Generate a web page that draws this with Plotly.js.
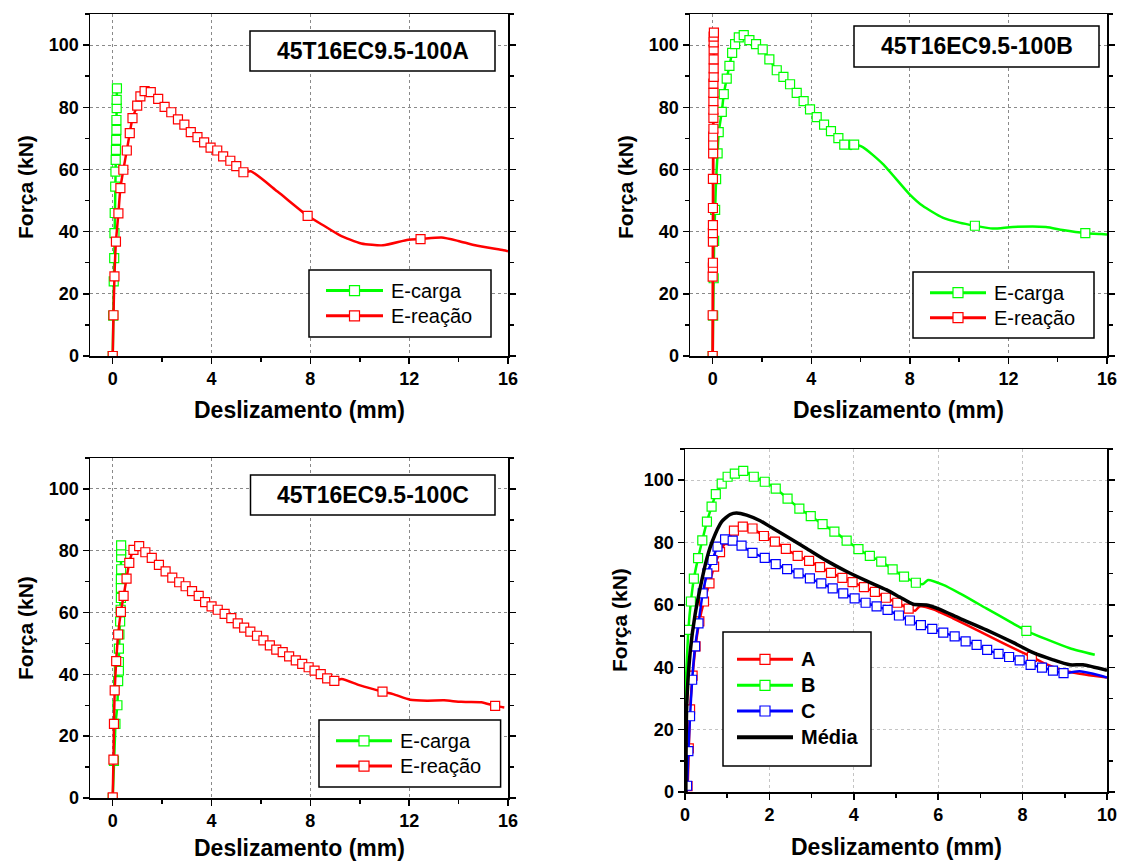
<!DOCTYPE html>
<html><head><meta charset="utf-8">
<script src="https://cdn.plot.ly/plotly-3.0.1.min.js"></script>
<style>html,body{margin:0;padding:0;background:#fff}#c{width:1122px;height:863px}</style>
</head><body><div id="c"></div>
<script>
// ---------- DATA ----------
// Panel A (45T16EC9.5-100A)
const aCargaX = [0, 0.02, 0.04, 0.06, 0.07, 0.08, 0.10, 0.11, 0.12, 0.13, 0.14, 0.15, 0.15, 0.16, 0.16, 0.17];
const aCargaY = [0, 13, 24, 31.5, 39.5, 46, 54.5, 59.3, 63.1, 66.3, 69.5, 72.7, 75.9, 79.7, 82.4, 86.1];
const aReacaoX = [0, 0.03, 0.07, 0.13, 0.23, 0.31, 0.43, 0.57, 0.69, 0.80, 0.99, 1.12, 1.29, 1.54, 1.84, 2.10, 2.37, 2.64, 2.90, 3.16, 3.43, 3.70, 3.96, 4.23, 4.47, 4.76, 5.00, 5.29,
  5.59, 6.67, 7.89, 8.57, 9.18, 10.06, 10.94, 11.96, 12.46, 13.31, 13.99, 14.67, 15.82, 16.0];
const aReacaoY = [0, 13.1, 25.6, 36.8, 45.9, 54.0, 59.9, 66.1, 71.7, 76.5, 80.5, 83.5, 85.2, 84.9, 82.7, 80.1, 78.4, 76.1, 74.4, 72.0, 70.4, 68.7, 67.0, 66.1, 64.2, 62.8, 61.1, 59.1,
  59.4, 52.9, 45.1, 41.8, 38.9, 36.2, 35.6, 37.4, 37.6, 38.1, 37.0, 35.6, 34.0, 33.7];
// Panel B (45T16EC9.5-100B)
const bCargaX = [0, 0.02, 0.04, 0.06, 0.10, 0.14, 0.20, 0.245, 0.37, 0.45, 0.57, 0.68, 0.79, 0.91, 1.06, 1.26, 1.49, 1.76, 2.03, 2.30, 2.60, 2.87, 3.14, 3.41, 3.69, 3.95, 4.22, 4.52, 4.80, 5.10, 5.34,
  5.61, 5.74, 6.09, 6.90, 7.98, 8.52, 9.33, 10.01, 10.64, 11.36, 12.17, 13.52, 14.2, 15.12, 15.76, 16.0];
const bCargaY = [0, 13, 25, 37, 47, 56.9, 65.2, 72.0, 78.5, 84.2, 89.2, 93.3, 97.5, 100.3, 102.5, 103.2, 101.6, 100.3, 98.6, 95.4, 91.9, 89.8, 87.4, 84.6, 82.0, 79.3, 76.8, 74.4, 72.3, 70.1, 68.0,
  66.6, 68.0, 67.2, 61.8, 52.1, 48.3, 44.5, 42.9, 41.9, 41.0, 41.5, 41.5, 40.5, 39.5, 39.2, 39.1];
const bReacaoX = [0, 0, 0, 0.01, 0.01, 0.01, 0.01, 0.01, 0.01, 0.01, 0.02, 0.02, 0.02, 0.03, 0.03, 0.03, 0.03, 0.03, 0.03, 0.04, 0.04, 0.04, 0.04, 0.04, 0.04, 0.05];
const bReacaoY = [0, 13.1, 25.5, 28.4, 30.0, 36.8, 39.5, 42.1, 47.6, 57.0, 65.2, 68.0, 70.6, 73.1, 76.6, 79.2, 82.0, 84.6, 87.6, 89.8, 92.5, 95.4, 98.6, 100.9, 102.7, 104.0];
// Panel C (45T16EC9.5-100C)
const cCargaX = [0, 0.05, 0.11, 0.19, 0.22, 0.25, 0.25, 0.25, 0.27, 0.30, 0.32, 0.33, 0.33, 0.33, 0.34, 0.34, 0.34, 0.34];
const cCargaY = [0, 12, 24, 30, 37.8, 41.2, 44, 48.3, 52.9, 57.1, 60.9, 64.7, 68, 70.8, 74, 77.9, 80.1, 81.7];
const cReacaoX = [0, 0.03, 0.05, 0.08, 0.14, 0.22, 0.33, 0.44, 0.56, 0.67, 0.84, 1.07, 1.32, 1.58, 1.87, 2.14, 2.41, 2.69, 2.95, 3.21, 3.48, 3.74, 4.00, 4.25, 4.53, 4.80, 5.06, 5.32, 5.57, 5.84,
  6.10, 6.36, 6.62, 6.88, 7.14, 7.41, 7.67, 7.93, 8.17, 8.42, 8.68, 8.97, 9.27, 9.98, 10.92, 11.35, 12.04, 12.73, 13.41, 14.1, 14.92, 15.48, 15.85];
const cReacaoY = [0.2, 12.4, 24.0, 34.8, 44.3, 52.9, 60.2, 65.4, 71.0, 76.1, 80.3, 81.5, 79.5, 77.7, 75.4, 73.3, 71.3, 69.8, 68.5, 66.9, 65.4, 63.4, 62.0, 60.9, 59.6, 58.2, 56.5, 55.1, 53.8, 52.5,
  51.0, 49.4, 48.0, 47.2, 45.8, 44.5, 43.4, 42.3, 41.2, 40.1, 38.7, 37.9, 38.5, 36.5, 34.4, 33.6, 31.8, 31.5, 31.6, 31.1, 31.0, 29.8, 29.3];
// Panel D (A, B, C, Média)
const dAX = [0.03, 0.06, 0.09, 0.12, 0.18, 0.25, 0.34, 0.45, 0.58, 0.69, 0.83, 0.99, 1.16, 1.37, 1.60, 1.87, 2.13, 2.39, 2.67, 2.94, 3.20, 3.46, 3.73, 3.97, 4.24, 4.50, 4.76, 5.03, 5.30,
  5.45, 5.56, 5.88, 6.35, 6.98, 7.62, 8.22, 8.56, 9.04, 9.51, 10.0];
const dAY = [0, 1.9, 14, 26.5, 37.3, 46.7, 54.7, 61.1, 66.9, 72.3, 76.9, 80.8, 83.8, 85.1, 84.5, 82.1, 80.3, 78.0, 75.7, 74.1, 72.1, 70.3, 68.7, 67.3, 65.7, 64.2, 62.3, 60.7, 58.8,
  58.1, 59.5, 58.6, 55.7, 51.5, 47.2, 43.3, 41.0, 38.7, 37.6, 36.7];
const dBX = [0.01, 0.02, 0.05, 0.08, 0.14, 0.21, 0.31, 0.41, 0.52, 0.63, 0.73, 0.87, 1.01, 1.18, 1.38, 1.63, 1.89, 2.15, 2.43, 2.71, 2.98, 3.26, 3.54, 3.83, 4.11, 4.38, 4.65, 4.92, 5.19, 5.47,
  5.64, 5.76, 6.12, 6.51, 7.14, 7.77, 8.09, 8.56, 9.12, 9.71];
const dBY = [25, 35, 44, 52.0, 61.1, 68.4, 75.0, 80.7, 86.7, 91.5, 95.5, 98.9, 101.1, 102.1, 103.0, 101.1, 99.5, 97.3, 94.1, 90.9, 88.5, 85.9, 83.5, 80.6, 77.9, 75.7, 73.9, 71.4, 69.1, 67.1,
  66.7, 68.0, 66.4, 63.7, 58.9, 54.1, 51.7, 49.0, 46.1, 44.0];
const dCX = [0.03, 0.05, 0.08, 0.12, 0.17, 0.24, 0.32, 0.42, 0.53, 0.65, 0.77, 0.95, 1.13, 1.34, 1.60, 1.89, 2.15, 2.42, 2.69, 2.96, 3.23, 3.50, 3.75, 4.02, 4.28, 4.54, 4.80, 5.07, 5.33, 5.59,
  5.86, 6.12, 6.39, 6.65, 6.91, 7.16, 7.43, 7.68, 7.93, 8.19, 8.46, 8.72, 8.97, 9.35, 9.67, 10.0];
const dCY = [0, 2, 13.1, 24.3, 36, 46.7, 54.1, 63.7, 70.1, 74.4, 78.7, 81.0, 80.6, 79.0, 76.7, 75.1, 73.1, 71.5, 70.1, 68.5, 66.9, 65.3, 63.7, 62.1, 60.7, 59.5, 58.4, 56.6, 55.0, 53.5,
  52.3, 51.1, 49.9, 48.3, 47.2, 45.6, 44.3, 43.3, 42.2, 40.8, 39.9, 38.9, 38.1, 38.7, 37.9, 36.7];
const dMediaX = [0.02, 0.04, 0.12, 0.24, 0.40, 0.52, 0.65, 0.87, 1.07, 1.22, 1.46, 1.78, 2.09, 2.49, 2.88, 3.35, 3.83, 4.30, 4.78, 5.09, 5.41, 5.72, 6.04, 6.51, 7.14, 7.77, 8.25, 8.72, 9.12, 9.43, 10.0];
const dMediaY = [0, 27.5, 44.5, 57, 68, 75, 80.5, 86.7, 89.0, 89.5, 88.8, 87.0, 84.5, 81.3, 78.1, 74.2, 70.7, 67.7, 64.8, 62.5, 60.2, 60.0, 58.6, 55.7, 52.0, 48.0, 44.7, 42.4, 40.8, 40.8, 39.0];

// which points carry a square symbol: [first, last] run plus isolated ones
const aReacaoMarks = [[0, 27], [30, 36]];
const bCargaMarks = [[0, 30], [32, 39, 44]];
const cReacaoMarks = [[0, 41], [44, 51]];
const dAMarks = [[1, 28], [35]];
const dBMarks = [[3, 29], [36]];
const dCMarks = [[1, 42], []];

// text
const panelTitles = ['45T16EC9.5-100A', '45T16EC9.5-100B', '45T16EC9.5-100C'];
const legendNames = ['E-carga', 'E-reação'];
const legendNamesD = ['A', 'B', 'C', 'Média'];
const xTitle = 'Deslizamento (mm)';
const yTitle = 'Força (kN)';

// ---------- DRAWING ----------
const W = 1122, H = 863;
const FONT = 'Liberation Sans, Arial, sans-serif';
const RED = '#ff0000', GREEN = '#00ff00', BLUE = '#0000ff', BLACK = '#000000';
const P = x => x / W, Q = y => 1 - y / H;

function allMarks(n) { return [[0, n - 1], []]; }
function markIdx(spec) {
  const out = [];
  for (let i = spec[0][0]; i <= spec[0][1]; i++) out.push(i);
  return out.concat(spec[1]);
}
function series(x, y, color, xa, ya, marks, lw, shape) {
  const t = [{type: 'scatter', mode: 'lines', x: x, y: y, xaxis: xa, yaxis: ya,
    line: {color: color, width: lw, shape: shape, smoothing: 0.6}, showlegend: false, hoverinfo: 'skip'}];
  if (marks) {
    const idx = markIdx(marks);
    t.push({type: 'scatter', mode: 'markers', x: idx.map(i => x[i]), y: idx.map(i => y[i]), xaxis: xa, yaxis: ya,
      marker: {symbol: 'square', size: 9, color: '#ffffff', line: {color: color, width: 1.2}},
      showlegend: false, hoverinfo: 'skip'});
  }
  return t;
}

let data = [];
data = data.concat(series(aCargaX, aCargaY, GREEN, 'x', 'y', allMarks(aCargaX.length), 2.5, 'linear'));
data = data.concat(series(aReacaoX, aReacaoY, RED, 'x', 'y', aReacaoMarks, 2.5, 'spline'));
data = data.concat(series(bCargaX, bCargaY, GREEN, 'x2', 'y2', bCargaMarks, 2.5, 'spline'));
data = data.concat(series(bReacaoX, bReacaoY, RED, 'x2', 'y2', allMarks(bReacaoX.length), 2.8, 'linear'));
data = data.concat(series(cCargaX, cCargaY, GREEN, 'x3', 'y3', allMarks(cCargaX.length), 2.5, 'linear'));
data = data.concat(series(cReacaoX, cReacaoY, RED, 'x3', 'y3', cReacaoMarks, 2.5, 'spline'));
data = data.concat(series(dAX, dAY, RED, 'x4', 'y4', dAMarks, 2.5, 'spline'));
data = data.concat(series(dBX, dBY, GREEN, 'x4', 'y4', dBMarks, 2.5, 'spline'));
data = data.concat(series(dCX, dCY, BLUE, 'x4', 'y4', dCMarks, 2.5, 'spline'));
data = data.concat(series(dMediaX, dMediaY, BLACK, 'x4', 'y4', null, 3.5, 'spline'));

const tickFont = {family: FONT, size: 18, color: '#000', weight: 'bold'};
function xAxis(px0, px1, range, dtick, minorD, anchor, grid) {
  return {domain: [P(px0), P(px1)], range: range, anchor: anchor, tick0: 0, dtick: dtick,
    ticks: 'outside', ticklen: 6, tickwidth: 1.5, tickcolor: '#000',
    minor: {ticks: 'outside', tick0: 0, dtick: minorD, ticklen: 4, tickwidth: 1.5, tickcolor: '#000', showgrid: false},
    showline: true, linecolor: '#000', linewidth: 1.5, mirror: true,
    showgrid: true, gridcolor: grid, griddash: '3px,3px', gridwidth: 1, zeroline: false,
    tickfont: tickFont, fixedrange: true};
}
function yAxis(py0, py1, anchor, grid) {
  return {domain: [Q(py1), Q(py0)], range: [0, 110], anchor: anchor, tick0: 0, dtick: 20,
    ticks: 'outside', ticklen: 6, tickwidth: 1.5, tickcolor: '#000',
    minor: {ticks: 'outside', tick0: 0, dtick: 10, ticklen: 4, tickwidth: 1.5, tickcolor: '#000', showgrid: false},
    showline: true, linecolor: '#000', linewidth: 1.5, mirror: 'allticks',
    showgrid: true, gridcolor: grid, griddash: '3px,3px', gridwidth: 1, zeroline: false,
    tickfont: tickFont, fixedrange: true};
}

const shapes = [], annotations = [];
function boxShape(x0, y0, x1, y1, w) {
  shapes.push({type: 'rect', xref: 'paper', yref: 'paper', x0: P(x0), x1: P(x1), y0: Q(y1), y1: Q(y0),
    line: {color: '#000', width: w}, fillcolor: '#ffffff', layer: 'above'});
}
function text(t, x, y, size, weight, opts) {
  annotations.push(Object.assign({text: t, xref: 'paper', yref: 'paper', x: P(x), y: Q(y), showarrow: false,
    xanchor: 'center', yanchor: 'middle', font: {family: FONT, size: size, color: '#000', weight: weight}}, opts || {}));
}
function legend(box, lx0, lx1, tx, ys, names, colors, markers, weight) {
  boxShape(box[0], box[1], box[2], box[3], 1.5);
  const mx = (lx0 + lx1) / 2;
  names.forEach((n, i) => {
    const y = ys[i];
    shapes.push({type: 'line', xref: 'paper', yref: 'paper', x0: P(lx0), x1: P(lx1), y0: Q(y), y1: Q(y),
      line: {color: colors[i], width: i === 3 ? 4 : 3}, layer: 'above'});
    if (markers[i]) shapes.push({type: 'rect', xref: 'paper', yref: 'paper', x0: P(mx - 5), x1: P(mx + 5), y0: Q(y + 5), y1: Q(y - 5),
      line: {color: colors[i], width: 1.2}, fillcolor: '#ffffff', layer: 'above'});
    text(n, tx, y, 20, weight, {xanchor: 'left'});
  });
}

// panel title boxes
boxShape(250, 31, 495, 71, 1.5); text(panelTitles[0], 372.5, 51, 23, 'bold');
boxShape(854, 26, 1099, 67, 1.5); text(panelTitles[1], 976.5, 46.5, 23, 'bold');
boxShape(250.5, 475, 495, 515, 1.5); text(panelTitles[2], 372.8, 495, 23, 'bold');

// legends
legend([309, 270, 491, 337], 326, 383, 389, [290.6, 315.8], legendNames, [GREEN, RED], [1, 1], 'normal');
legend([913, 272, 1094, 338], 930, 986, 991.7, [292.7, 317.7], legendNames, [GREEN, RED], [1, 1], 'normal');
legend([319, 720, 500.6, 787], 336, 392, 397.7, [740.8, 766.1], legendNames, [GREEN, RED], [1, 1], 'normal');
legend([723, 632, 871, 766], 737, 793, 799.3, [659.3, 685.3, 711, 737.3], legendNamesD, [RED, GREEN, BLUE, BLACK], [1, 1, 1, 0], 'bold');

// axis titles
[[25, 187], [625, 187], [25, 628], [619, 620]].forEach(p => text(yTitle, p[0], p[1], 21, 'bold', {textangle: -90}));
[[299, 410], [898, 410], [299, 848], [896, 847]].forEach(p => text(xTitle, p[0], p[1], 23, 'bold'));

const GRID = '#8a8a8a', GRID4 = '#c4c4c4';
const layout = {
  width: W, height: H, margin: {l: 0, r: 0, t: 0, b: 0}, paper_bgcolor: '#fff', plot_bgcolor: '#fff',
  showlegend: false, font: {family: FONT, color: '#000'},
  xaxis: xAxis(90, 508, [-0.92, 16], 4, 2, 'y', GRID), yaxis: yAxis(14, 356, 'x', GRID),
  xaxis2: xAxis(690, 1107, [-0.92, 16], 4, 2, 'y2', GRID), yaxis2: yAxis(14, 356, 'x2', GRID),
  xaxis3: xAxis(90, 508, [-0.92, 16], 4, 2, 'y3', GRID), yaxis3: yAxis(458, 798, 'x3', GRID),
  xaxis4: xAxis(685, 1107, [0, 10], 2, 1, 'y4', GRID4), yaxis4: yAxis(449, 792, 'x4', GRID4),
  shapes: shapes, annotations: annotations
};
Plotly.newPlot('c', data, layout, {displayModeBar: false, staticPlot: true});
</script></body></html>
